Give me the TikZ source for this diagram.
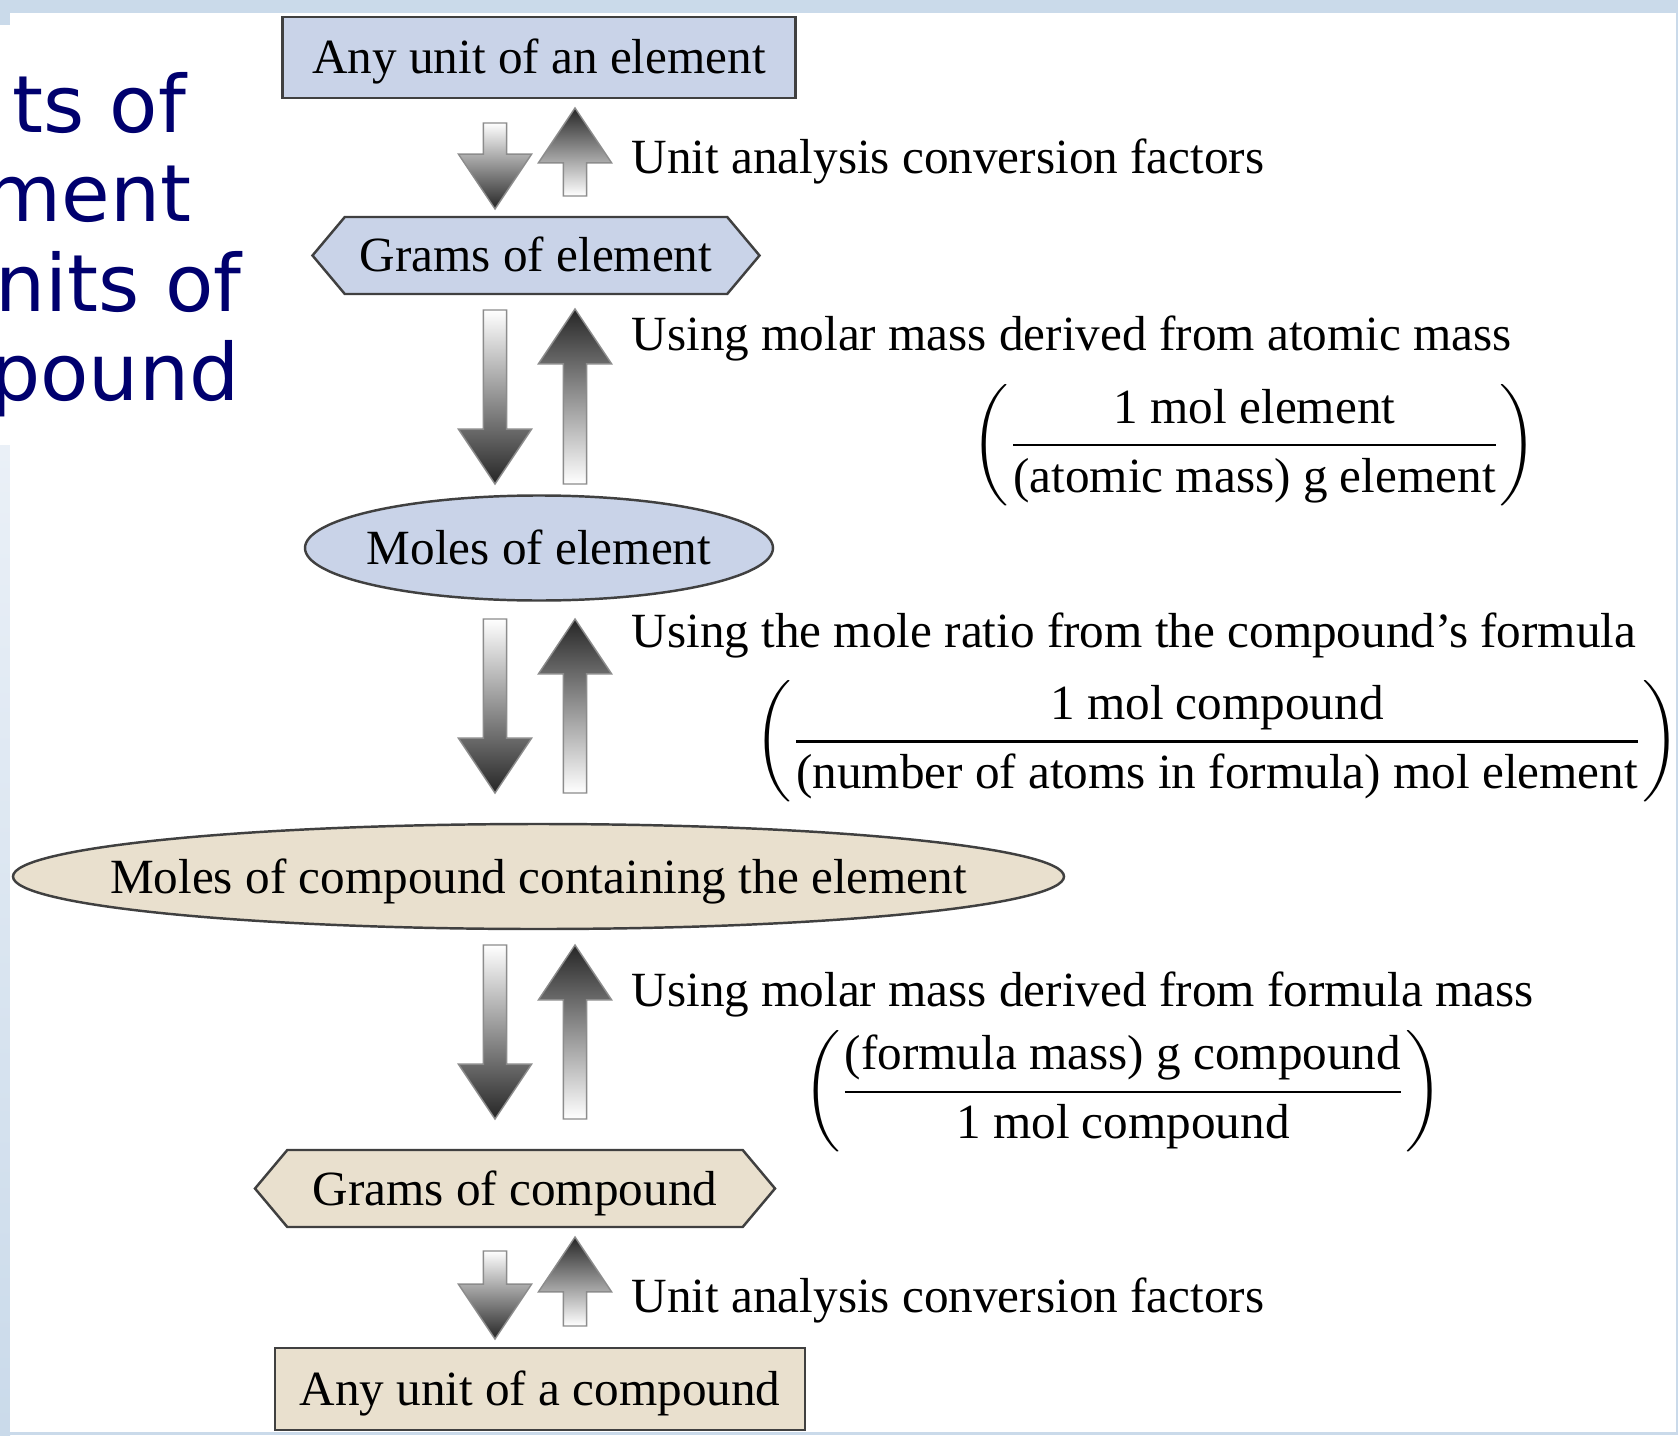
\documentclass[tikz,border=0pt]{standalone}
\usepackage{fontspec}
\setmainfont{Liberation Serif}
\newfontfamily\slidefont{DejaVu Sans}
\usepackage{amsmath}
\definecolor{elemblue}{RGB}{201,211,232}
\definecolor{cmpdtan}{RGB}{233,224,206}
\definecolor{slidenavy}{RGB}{0,0,110}
\definecolor{slideblue}{RGB}{202,218,234}
\definecolor{slidelight}{RGB}{234,240,247}
\usetikzlibrary{shapes.geometric,shapes.symbols,calc}

\newcommand{\arrowdown}[2]{%
  \shade[blockarr, top color=white, bottom color=black!85]
    let \p1=(#1), \p2=(#2) in
    (\x1-3.3pt,\y1) -- (\x1-3.3pt,\y2+15.6pt) -- (\x1-10.4pt,\y2+15.6pt) -- (\x2,\y2)
    -- (\x1+10.4pt,\y2+15.6pt) -- (\x1+3.3pt,\y2+15.6pt) -- (\x1+3.3pt,\y1) -- cycle;}
\newcommand{\arrowup}[2]{%
  \shade[blockarr, top color=black!85, bottom color=white]
    let \p1=(#1), \p2=(#2) in
    (\x1-3.3pt,\y1) -- (\x1-3.3pt,\y2-15.6pt) -- (\x1-10.4pt,\y2-15.6pt) -- (\x2,\y2)
    -- (\x1+10.4pt,\y2-15.6pt) -- (\x1+3.3pt,\y2-15.6pt) -- (\x1+3.3pt,\y1) -- cycle;}

\begin{document}
\begin{tikzpicture}[every node/.style={font=\fontsize{14}{17}\selectfont},
  unitbox/.style={draw=black!75, line width=0.7pt, rectangle, minimum height=0.815cm,
    inner sep=0pt, text height=0.33cm, text depth=0pt},
  gramsbox/.style={draw=black!75, line width=0.7pt, signal, signal to=west and east,
    signal pointer angle=100, minimum height=0.77cm, inner sep=0pt, text height=0.33cm, text depth=0pt},
  molesbox/.style={draw=black!75, line width=0.7pt, ellipse, minimum height=1.05cm,
    inner sep=0pt, text height=0.33cm, text depth=0pt},
  steplabel/.style={anchor=base west, inner sep=0pt},
  factor/.style={inner sep=0pt},
  slidetext/.style={anchor=base east, inner sep=0pt, text=slidenavy,
    font=\slidefont\fontsize{22.5}{27}\selectfont},
  blockarr/.style={draw=black!45, line width=0.4pt}]

\useasboundingbox (0,0) rectangle (16.78,-14.35);
\clip (0,0) rectangle (16.78,-14.35);
\fill[slideblue] (0,0) rectangle (16.78,-14.35);
\shade[top color=slidelight, bottom color=slideblue] (0,-4.45) rectangle (0.10,-14.35);
\fill[white] (0.10,-0.13) rectangle (16.76,-14.32);
\fill[white] (0,-0.25) rectangle (0.10,-4.45);

\node[slidetext] (s1) at (1.87,-1.33) {ts of};
\node[slidetext] (s2) at (1.92,-2.22) {ment};
\node[slidetext] (s3) at (2.42,-3.12) {nits of};
\node[slidetext] (s4) at (2.40,-4.00) {pound};

\node[unitbox, fill=elemblue, minimum width=5.13cm] (any1) at (5.39,-0.575) {Any unit of an element};
\node[gramsbox, fill=elemblue, minimum width=4.47cm] (grel) at (5.36,-2.555) {\makebox[0pt]{Grams of element}};
\node[molesbox, fill=elemblue, minimum width=4.68cm] (molel) at (5.39,-5.48) {\makebox[0pt]{Moles of element}};
\node[molesbox, fill=cmpdtan, minimum width=10.51cm] (molcmp) at (5.385,-8.765) {\makebox[0pt]{Moles of compound containing the element}};
\node[gramsbox, fill=cmpdtan, minimum width=5.20cm] (grcmp) at (5.15,-11.885) {\makebox[0pt]{Grams of compound}};
\node[unitbox, fill=cmpdtan, minimum width=5.30cm] (any2) at (5.40,-13.89) {Any unit of a compound};

\coordinate (d1a) at (4.95,-1.23);  \coordinate (d1b) at (4.95,-2.09);
\coordinate (u1a) at (5.75,-1.96);  \coordinate (u1b) at (5.75,-1.08);
\coordinate (d2a) at (4.95,-3.10);  \coordinate (d2b) at (4.95,-4.84);
\coordinate (u2a) at (5.75,-4.84);  \coordinate (u2b) at (5.75,-3.09);
\coordinate (d3a) at (4.95,-6.19);  \coordinate (d3b) at (4.95,-7.93);
\coordinate (u3a) at (5.75,-7.93);  \coordinate (u3b) at (5.75,-6.19);
\coordinate (d4a) at (4.95,-9.45);  \coordinate (d4b) at (4.95,-11.19);
\coordinate (u4a) at (5.75,-11.19); \coordinate (u4b) at (5.75,-9.45);
\coordinate (d5a) at (4.95,-12.51); \coordinate (d5b) at (4.95,-13.39);
\coordinate (u5a) at (5.75,-13.26); \coordinate (u5b) at (5.75,-12.37);

\arrowdown{d1a}{d1b} \arrowup{u1a}{u1b}
\arrowdown{d2a}{d2b} \arrowup{u2a}{u2b}
\arrowdown{d3a}{d3b} \arrowup{u3a}{u3b}
\arrowdown{d4a}{d4b} \arrowup{u4a}{u4b}
\arrowdown{d5a}{d5b} \arrowup{u5a}{u5b}

\node[steplabel] (l1) at (6.31,-1.74) {Unit analysis conversion factors};
\node[steplabel] (l2) at (6.31,-3.51) {Using molar mass derived from atomic mass};
\node[steplabel] (l3) at (6.31,-6.47) {Using the mole ratio from the compound's formula};
\node[steplabel] (l4) at (6.31,-10.06) {Using molar mass derived from formula mass};
\node[steplabel] (l5) at (6.31,-13.12) {Unit analysis conversion factors};

\node[factor] (f1) at (12.545,-4.45) {$\left(\dfrac{\mbox{1 mol element}}{\mbox{(atomic mass) g element}}\right)$};
\node[factor] (f2) at (12.17,-7.415) {$\left(\dfrac{\mbox{1 mol compound}}{\mbox{(number of atoms in formula) mol element}}\right)$};
\node[factor] (f3) at (11.23,-10.915) {$\left(\dfrac{\mbox{(formula mass) g compound}}{\mbox{1 mol compound}}\right)$};

\end{tikzpicture}
\end{document}
